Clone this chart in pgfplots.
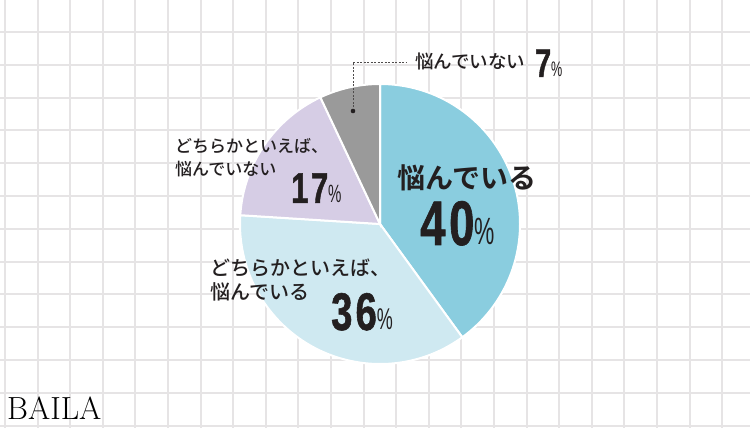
\documentclass[border=0pt]{standalone}
\usepackage{pgfplots}
\pgfplotsset{compat=1.18}
\usepackage{fontspec}
\newfontfamily\jpb{Noto Sans CJK JP Bold}
\newfontfamily\jpm{Noto Sans CJK JP Medium}
\newfontfamily\numfont{Liberation Sans Bold}[FakeStretch=0.72, FakeBold=1, LetterSpace=6]
\newfontfamily\pctfont{Liberation Sans}[FakeStretch=0.6]
\definecolor{cA}{HTML}{8ACDDF}
\definecolor{cB}{HTML}{CFE9F1}
\definecolor{cC}{HTML}{D6CDE5}
\definecolor{cD}{HTML}{9A9A9A}
\definecolor{gridc}{HTML}{E6E4E5}
\definecolor{txt}{HTML}{231F20}
% shares (percent)
\def\vA{40}\def\vB{36}\def\vC{17}\def\vD{7}
\newcommand\num[4]{{\numfont\fontsize{#1}{#1}\selectfont #2}{\pctfont\fontsize{#3}{#3}\selectfont #4}}
\begin{document}
\begin{tikzpicture}
\begin{axis}[name=ax, scale only axis, width=750pt, height=428pt,
  xmin=0, xmax=750, ymin=0, ymax=428,
  axis line style={draw=none}, major tick length=0pt,
  xticklabel=\empty, yticklabel=\empty,
  xtick={5,37.6,...,750}, ytick={2.4,35.2,...,400},
  grid=major, grid style={draw=gridc, line width=2pt},
  clip=false, axis background/.style={fill=white}]
% pie slices, clockwise from the top
\filldraw[fill=cA, draw=white, line width=2pt] (axis cs:380,204) -- ++(90:140pt)
  arc[start angle=90, end angle={90-3.6*\vA}, radius=140pt] -- cycle;
\filldraw[fill=cB, draw=white, line width=2pt] (axis cs:380,204) -- ++({90-3.6*\vA}:140pt)
  arc[start angle={90-3.6*\vA}, end angle={90-3.6*(\vA+\vB)}, radius=140pt] -- cycle;
\filldraw[fill=cC, draw=white, line width=2pt] (axis cs:380,204) -- ++({90-3.6*(\vA+\vB)}:140pt)
  arc[start angle={90-3.6*(\vA+\vB)}, end angle={90-3.6*(\vA+\vB+\vC)}, radius=140pt] -- cycle;
\filldraw[fill=cD, draw=white, line width=2pt] (axis cs:380,204) -- ++({90-3.6*(\vA+\vB+\vC)}:140pt)
  arc[start angle={90-3.6*(\vA+\vB+\vC)}, end angle={90-3.6*(\vA+\vB+\vC+\vD)}, radius=140pt] -- cycle;
% leader for 7%
\draw[txt!80, line width=0.8pt, dash pattern=on 2pt off 1.5pt] (axis cs:353,317) -- (axis cs:353,366) -- (axis cs:406,366);
\fill[txt] (axis cs:353,317) circle[radius=2.3pt];
% labels
\node[anchor=base west, inner sep=0pt, text=txt, font=\jpm\fontsize{18.5}{18.5}\selectfont] at (axis cs:415,359) {悩んでいない};
\node[anchor=base west, inner sep=0pt, text=txt] at (axis cs:535,351) {\num{40}{7}{21}{\%}};
\node[anchor=center, inner sep=0pt, text=txt, font=\jpb\fontsize{28}{28}\selectfont] at (axis cs:467,250.5) {悩んでいる};
\node[anchor=base west, inner sep=0pt, text=txt] at (axis cs:420,183) {\num{63}{40}{38}{\%}};
\node[anchor=base west, inner sep=0pt, text=txt, font=\jpm\fontsize{17}{17}\selectfont] at (axis cs:175,275.5) {どちらかといえば、};
\node[anchor=base west, inner sep=0pt, text=txt, font=\jpm\fontsize{17}{17}\selectfont] at (axis cs:175,252.5) {悩んでいない};
\node[anchor=base west, inner sep=0pt, text=txt] at (axis cs:291,225) {\num{43}{17}{25}{\%}};
\node[anchor=base west, inner sep=0pt, text=txt, font=\jpm\fontsize{20}{20}\selectfont] at (axis cs:210,152.4) {どちらかといえば、};
\node[anchor=base west, inner sep=0pt, text=txt, font=\jpm\fontsize{20}{20}\selectfont] at (axis cs:210,128.4) {悩んでいる};
\node[anchor=base west, inner sep=0pt, text=txt] at (axis cs:331,98) {\num{53}{36}{30}{\%}};
\node[anchor=base west, inner sep=0pt, text=black, font=\fontsize{32}{32}\selectfont] at (axis cs:7,8) {BAILA};
\end{axis}
\pgfresetboundingbox
\path[use as bounding box] (ax.south west) rectangle (ax.north east);
\end{tikzpicture}
\end{document}
